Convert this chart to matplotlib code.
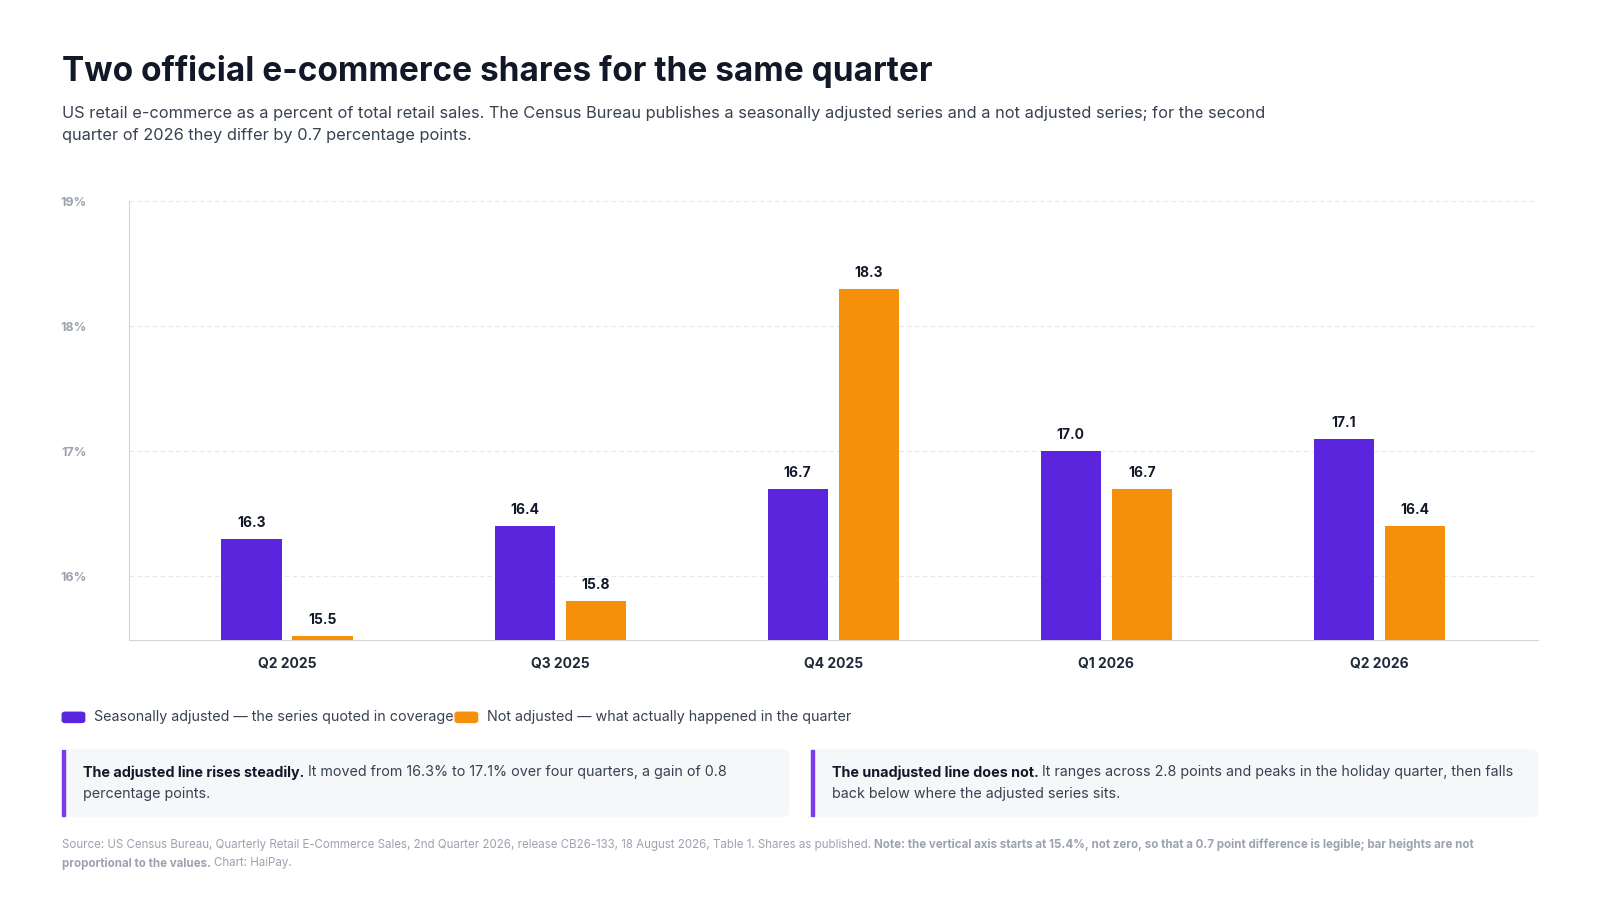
import matplotlib.pyplot as plt
from matplotlib.patches import FancyBboxPatch, Rectangle
import numpy as np

plt.rcParams['font.family'] = ['Inter', 'DejaVu Sans']

quarters = ['Q2 2025', 'Q3 2025', 'Q4 2025', 'Q1 2026', 'Q2 2026']
adjusted = [16.3, 16.4, 16.7, 17.0, 17.1]
not_adjusted = [15.52, 15.8, 18.3, 16.7, 16.4]
labels_na = ['15.5', '15.8', '18.3', '16.7', '16.4']
yticks = [16, 17, 18, 19]

PURPLE = '#5b24dd'
ORANGE = '#f5900a'
# layout measured in reference pixel space
W, H = 1568, 882

fig = plt.figure(figsize=(16, 9), dpi=100)
ax = fig.add_axes([126 / W, 1 - 627 / H, (1507 - 126) / W, (627 - 197) / H])

x = np.arange(len(quarters))
bw = 0.22
ax.bar(x - 0.13, [a - 15.49 for a in adjusted], bw, bottom=15.49, color=PURPLE, zorder=3)
ax.bar(x + 0.13, [v - 15.49 for v in not_adjusted], bw, bottom=15.49, color=ORANGE, zorder=3)
for i in range(len(quarters)):
    ax.text(x[i] - 0.13, adjusted[i] + 0.07, f'{adjusted[i]:.1f}', ha='center', va='bottom',
            fontsize=10, fontweight='bold', color='#111827')
    ax.text(x[i] + 0.13, not_adjusted[i] + 0.07, labels_na[i], ha='center', va='bottom',
            fontsize=10, fontweight='bold', color='#111827')

ax.set_ylim(15.49, 19)
ax.set_xlim(-0.58, 4.58)
ax.set_yticks(yticks)
ax.set_yticklabels([f'{t}%' for t in yticks], fontsize=9, color='#9ca3af', fontweight='bold')
ax.tick_params(axis='y', length=0, pad=30)
ax.tick_params(axis='x', length=0, pad=12)
ax.set_xticks(x)
ax.set_xticklabels(quarters, fontsize=10, fontweight='bold', color='#1f2937')
ax.grid(axis='y', color='#e5e7eb', linestyle=(0, (4, 3)), linewidth=0.8, zorder=0)
for s in ['top', 'right']:
    ax.spines[s].set_visible(False)
for s in ['left', 'bottom']:
    ax.spines[s].set_color('#d1d5db')

fig.text(61 / W, 1 - 70 / H, 'Two official e-commerce shares for the same quarter',
         fontsize=24, fontweight='bold', color='#111827', va='center')
fig.text(61 / W, 1 - 122 / H,
         'US retail e-commerce as a percent of total retail sales. The Census Bureau publishes a seasonally adjusted series and a not adjusted series; for the second\n'
         'quarter of 2026 they differ by 0.7 percentage points.',
         fontsize=11.8, color='#374151', va='center', linespacing=1.55)

# legend
for lx, col, txt in [(61, PURPLE, 'Seasonally adjusted — the series quoted in coverage'),
                     (446, ORANGE, 'Not adjusted — what actually happened in the quarter')]:
    fig.patches.append(FancyBboxPatch((lx / W, 1 - 708 / H), 22 / W, 10 / H,
                                      boxstyle='round,pad=0,rounding_size=0.002',
                                      transform=fig.transFigure, color=col))
    fig.text((lx + 31) / W, 1 - 703 / H, txt, fontsize=10.3, color='#374151', va='center')

# callouts
boxes = [(61, 'The adjusted line rises steadily.',
          ' It moved from 16.3% to 17.1% over four quarters, a gain of 0.8',
          'percentage points.'),
         (795, 'The unadjusted line does not.',
          ' It ranges across 2.8 points and peaks in the holiday quarter, then falls',
          'back below where the adjusted series sits.')]
renderer = fig.canvas.get_renderer()
for bx, bold, rest, line2 in boxes:
    fig.patches.append(FancyBboxPatch((bx / W, 1 - 800 / H), 712 / W, 65 / H,
                                      boxstyle='round,pad=0,rounding_size=0.005',
                                      transform=fig.transFigure, color='#f6f7f9'))
    fig.patches.append(Rectangle((bx / W, 1 - 800 / H), 3 / W, 65 / H,
                                 transform=fig.transFigure, color='#7c3aed'))
    t = fig.text((bx + 20) / W, 1 - 757 / H, bold, fontsize=10.3, fontweight='bold',
                 color='#111827', va='center')
    bb = t.get_window_extent(renderer)
    fig.text(bb.x1 / fig.bbox.width, 1 - 757 / H, rest, fontsize=10.3, color='#374151', va='center')
    fig.text((bx + 20) / W, 1 - 778 / H, line2, fontsize=10.3, color='#374151', va='center')

# footer
t = fig.text(61 / W, 1 - 828 / H,
             'Source: US Census Bureau, Quarterly Retail E-Commerce Sales, 2nd Quarter 2026, release CB26-133, 18 August 2026, Table 1. Shares as published.',
             fontsize=8.3, color='#9ca3af', va='center')
bb = t.get_window_extent(renderer)
fig.text(bb.x1 / fig.bbox.width + 0.002, 1 - 828 / H,
         'Note: the vertical axis starts at 15.4%, not zero, so that a 0.7 point difference is legible; bar heights are not',
         fontsize=8.3, color='#9ca3af', va='center', fontweight='bold')
t2 = fig.text(61 / W, 1 - 846 / H, 'proportional to the values.', fontsize=8.3, color='#9ca3af',
              va='center', fontweight='bold')
bb = t2.get_window_extent(renderer)
fig.text(bb.x1 / fig.bbox.width + 0.002, 1 - 846 / H, 'Chart: HaiPay.', fontsize=8.3,
         color='#9ca3af', va='center')

fig.savefig('out.png', dpi=100, facecolor='white')
